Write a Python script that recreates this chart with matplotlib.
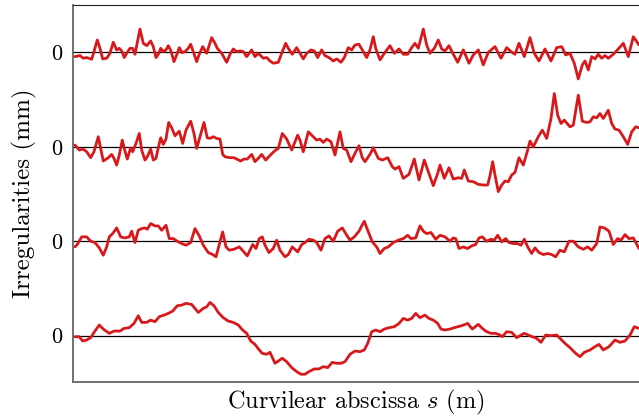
import numpy as np
import matplotlib
matplotlib.use("Agg")
from matplotlib import pyplot as plt

plt.rcParams['font.family'] = 'cmr10'
plt.rcParams['mathtext.fontset'] = 'cm'
plt.rcParams['axes.unicode_minus'] = False
plt.rcParams['axes.formatter.use_mathtext'] = True

# curvilear abscissa (m) and irregularities (mm), per track
s1 = [2, 7, 10.3, 13.7, 18.7, 21, 24.3, 27, 29.7, 33.7, 37, 40.3, 43.7, 46.3, 48.7, 51.3, 53.7, 57, 59.7, 62,
      67, 70.3, 73.7, 77.7, 80.3, 83, 85.3, 87.7, 90.3, 93, 95.3, 98, 101, 103.7, 106.3, 109, 112, 115.3, 117.7,
      120.3, 123.7, 126.3, 129.7, 133.7, 138.7, 142, 144.3, 148.7, 153.7, 157, 160.3, 163.7, 167.7, 170.3, 173.7,
      178.7, 182, 185.3, 187, 190.3, 193.7, 197, 200.3, 205.3, 208.7, 212.7, 215.3, 219.3, 223.7, 227, 230.3,
      233.7, 238, 241.3, 244.7, 248.7, 252, 256, 260.3, 263.7, 268, 271.3, 275.3, 278.7, 282, 286, 289.3, 293.7,
      297, 300.3, 302.7, 307, 311.3, 317, 321.3, 326, 330.3, 334.7, 338.7, 342, 345.3, 350.3, 353.7, 357, 361.3,
      365.3, 368.7, 372, 376, 379.3, 384.7, 390.3, 396, 400.3, 405.3, 410.3, 415.3, 422, 428, 433.7, 438, 442,
      446, 451.3, 457, 461.3, 466, 472, 478, 483.7, 488.7, 492.7, 497, 501.3, 505.3, 509.3, 512, 515.3, 518.7,
      522, 525.3, 528.7, 532, 535.3, 540.3, 545.3, 550.3, 555.3, 560.3, 566]
z1 = [-0.46, -0.35, -0.63, -0.56, -0.74, 0.07, 1.30, 0.42, -0.70, -0.63, -0.11, 1.06, 0.25, 0.42, 0.14, -0.56,
      -0.11, 0.42, 0.42, -0.21, 2.46, 0.95, 0.70, 1.20, 0.60, -0.56, -0.21, 0.42, 0.07, 0.25, 0.70, 0.14, -0.99,
      -0.28, 0.49, -0.04, 0.07, 0.42, 0.85, 0.07, -0.99, -0.21, 0.60, -0.11, 1.55, 0.95, 0.42, -0.11, -1.06,
      -0.21, 0.35, 0.07, 0.14, 0.07, -0.46, 0.25, -0.46, -0.11, -0.28, -0.63, -0.56, -0.92, -1.16, -1.06, -0.11,
      0.95, 0.42, -0.21, 0.49, -0.11, -0.70, -0.11, 0.25, 0.14, -0.56, 0.25, -0.35, -0.56, -0.92, -0.70, -1.06,
      -0.56, 0.49, 0.25, 0.77, 0.85, 0.25, -0.56, 0.25, 1.65, 0.42, -0.81, -0.11, 0.70, -0.11, 0.35, -0.21,
      -0.21, 0.49, 0.95, 0.42, 2.46, 0.77, -0.11, 0.42, 1.30, 0.35, 0.14, 0.70, 0.0, -1.06, 0.25, -1.16, -0.28,
      0.25, -1.34, 0.0, 0.60, -0.63, 0.49, 0.07, -0.21, 0.95, -0.46, 1.55, -0.11, -0.92, 0.35, -0.92, 0.49,
      0.60, -0.28, -0.11, -1.16, -2.82, -1.34, -0.92, -1.87, -0.46, -0.70, -0.21, -0.63, -0.35, -0.63, -0.21,
      0.35, 0.95, -0.46, 1.65, 0.77]

s2 = [2, 6.3, 10.3, 13.7, 17.7, 21, 25.3, 27.7, 30.3, 35.3, 38.7, 41, 43.7, 46.3, 49.3, 52, 54.3, 57.7, 59.7,
      63, 66.3, 68.7, 72, 74.3, 77.7, 80.3, 83, 85.3, 87.7, 90.3, 93, 95.7, 98.7, 102, 106.3, 109.7, 113, 117.7,
      121, 123.7, 127, 131, 134.3, 137, 140.3, 143.7, 147, 149.7, 152, 157, 161, 163.7, 167.7, 171, 174.3, 178.7,
      182, 185.3, 188.7, 192.7, 198, 202.7, 205.3, 209.3, 213.7, 218.7, 224.7, 227, 230.3, 235.3, 239.3, 243.7,
      247, 250.3, 253.7, 258, 262, 267, 270.3, 273.7, 278, 282, 286, 289.3, 292, 297, 300.3, 305.3, 309.3, 314.7,
      319.3, 322, 326, 330.3, 336, 341.3, 346, 351.3, 355.3, 360.3, 364.7, 367, 371.3, 376, 380.3, 385.3, 388.7,
      391.3, 395.3, 400.3, 405.3, 410.3, 414.7, 417, 419.7, 422, 425.3, 428.7, 432, 435.3, 438.7, 442, 446,
      450.3, 454.7, 457, 460.3, 465.3, 469.3, 473.7, 478, 481.3, 484.7, 488, 491.3, 497, 500.3, 505.3, 509.3,
      513.7, 517, 520.3, 523.7, 527, 530.3, 535.3, 538.7, 542, 546, 550.3, 554.7, 558.7, 562.7, 566]
z2 = [0.18, -0.35, -0.25, -0.53, -1.16, -0.53, 1.06, -0.18, -1.51, -1.16, -0.81, -1.23, -1.94, -0.88, 0.70,
      -0.46, -1.30, -0.11, -0.53, 0.35, 1.41, -0.35, -1.41, -1.06, -0.25, -1.41, -1.23, -0.11, 0.95, 0.25, 0.81,
      2.57, 2.01, 1.16, 1.65, 0.35, 1.76, 2.71, 1.41, -0.18, 1.06, 2.57, 0.95, 0.88, 1.06, 0.88, 0.81, -0.81,
      -1.06, -1.16, -1.16, -1.30, -1.51, -1.30, -1.30, -0.81, -1.58, -1.23, -0.81, -1.41, -0.81, -0.35, -0.18,
      1.41, 0.81, -0.35, 1.23, 0.70, -0.53, 1.58, 1.16, 0.70, 0.81, 0.46, 0.81, 0.53, -0.88, 1.58, -0.18, -0.35,
      -1.58, -0.70, 0.11, -1.16, -1.58, -0.81, -0.11, -1.23, -1.41, -1.16, -2.11, -2.36, -2.11, -3.35, -2.92,
      -1.30, -3.52, -1.41, -2.64, -4.12, -2.82, -1.94, -3.35, -2.22, -3.42, -3.28, -3.35, -2.46, -3.63, -3.70,
      -3.98, -4.05, -4.05, -3.06, -1.58, -2.99, -4.75, -4.05, -3.63, -3.70, -2.99, -2.71, -1.16, -1.94, -0.35,
      0.60, 0.0, 1.06, 1.76, 0.88, 2.99, 5.63, 3.35, 2.46, 2.82, 2.11, 2.29, 5.46, 2.71, 2.57, 2.64, 3.17, 3.06,
      3.52, 2.99, 3.87, 2.46, 1.87, 1.76, 1.06, 0.25, 1.58, 2.11, 2.01]

s3 = [2, 4.3, 8.7, 13.7, 17.7, 22, 26.3, 30.3, 33.7, 36.3, 39.7, 43.7, 47.7, 52, 56.3, 58.7, 62, 65.3, 68.7, 72,
      74.3, 77.7, 82, 85.3, 88.7, 93, 96.3, 100.3, 104.3, 108.7, 113, 117.7, 122, 126.3, 130.3, 135.3, 139.7, 143,
      146.3, 149.7, 153, 156.3, 161, 166.3, 170.3, 174.3, 179.7, 183, 186.3, 189.3, 192, 196, 200.3, 203.7, 207,
      212, 215.3, 219.3, 224.7, 228.7, 232, 236, 240.3, 243.7, 248, 252, 256, 260.3, 264.7, 269.3, 272.7, 277,
      281.3, 286, 288.7, 291.3, 294.7, 299.3, 303.7, 307, 311.3, 315.3, 320.3, 325.3, 330.3, 334.7, 338, 342.7,
      347, 350.3, 353.7, 358, 362.7, 367, 372, 377, 380.3, 382.7, 386, 390.3, 394.7, 398.7, 402.7, 406, 409.3,
      413.7, 418, 421.3, 424.7, 428.7, 432.7, 436, 440.3, 444.7, 448, 451.3, 454.7, 458.7, 462, 466, 470.3, 474.7,
      478.7, 482.7, 487, 491.3, 496, 500.3, 505.3, 510.3, 514.7, 518.7, 523.7, 527, 531.3, 536, 540.3, 544.7, 548,
      552, 556, 560.3, 566]
z3 = [-0.60, -0.35, 0.46, 0.46, 0.0, -0.14, -0.70, -1.48, -0.60, 0.46, 0.81, 1.41, 0.46, 0.35, 0.46, 1.06, -0.14,
      1.16, 1.34, 1.41, 1.27, 1.87, 1.62, 1.62, 1.16, 1.69, 0.28, 0.28, 0.0, -0.25, -0.42, -0.14, 1.34, 0.56,
      -0.42, -1.20, -1.41, -1.65, -0.35, 0.99, -0.60, -0.95, -0.85, -0.60, -1.06, -1.55, -0.35, -0.77, 0.28, 0.46,
      -0.42, -1.20, -0.77, 0.11, -0.95, -1.65, -1.41, -0.60, -1.13, -0.35, -0.14, 0.21, 0.11, -0.14, -0.95, 0.28,
      0.56, 0.0, 1.06, 1.41, 0.81, 0.11, 0.46, 1.06, 1.62, 2.11, 1.16, -0.07, -0.60, -1.30, -0.77, -0.60, -0.14,
      0.11, 0.28, 0.63, 0.28, 0.35, 1.62, 1.06, 0.81, 0.92, 0.21, 0.63, 0.46, 0.0, 0.35, 0.28, -0.77, -0.60,
      -0.77, -0.49, -0.35, 0.35, 0.46, 0.0, 0.21, 0.11, 0.63, -0.07, 0.28, -0.14, -0.25, -0.25, -0.42, 0.21,
      -0.60, -1.30, -0.70, -1.20, -1.41, -1.30, -1.41, -1.65, -0.95, -1.13, 0.0, 0.0, -0.60, -0.85, -0.60, -0.95,
      -0.25, 1.51, 1.41, 1.06, -0.35, 0.28, 0.11, 0.70, 0.28, 0.35, -0.77]

s4 = [2, 6.3, 9.7, 13.7, 17.7, 22, 26.3, 30.3, 36.3, 41, 47, 51, 56.3, 61, 65.3, 68.7, 73.7, 77.7, 82, 86.3, 91,
      95.3, 99.7, 104.3, 108.7, 113, 118.7, 122, 125.3, 130.3, 133.7, 137, 141, 145.3, 150.3, 155.3, 160.3, 165.3,
      169.7, 173.7, 177.7, 182, 186.3, 189.3, 193.7, 197, 202, 205.3, 209.3, 213.7, 218.7, 223.7, 228, 232, 236,
      241.3, 246, 250.3, 254.7, 259.3, 263.7, 268, 272, 277, 282, 287, 291.3, 294.7, 298.7, 302.7, 307, 311.3,
      316, 321.3, 326, 330.3, 334.7, 338.7, 342.7, 347, 352, 356, 360.3, 364.7, 368, 372, 377, 381.3, 384.7,
      388.7, 394.7, 399.3, 405.3, 409.3, 413.7, 418, 422.7, 427, 429.3, 433.7, 438.7, 443.7, 447, 451.3, 455.3,
      459.3, 463.7, 468, 472.7, 478, 483.7, 487, 492, 497, 502.7, 507, 511.3, 517, 522, 526, 530.3, 536, 542,
      547, 552, 557, 561.3, 566]
z4 = [-0.11, -0.11, -0.56, -0.46, -0.21, 0.49, 1.13, 0.70, 0.25, 0.49, 0.49, 0.77, 0.85, 1.30, 2.11, 1.41, 1.41,
      1.65, 1.48, 2.01, 2.18, 2.36, 2.61, 3.17, 3.24, 3.42, 3.31, 2.89, 2.46, 2.89, 3.06, 3.52, 3.17, 2.46, 1.90,
      1.55, 1.41, 1.13, 0.60, 0.25, -0.56, -0.92, -1.51, -1.87, -1.97, -1.76, -2.92, -2.68, -2.39, -2.75, -3.38,
      -3.80, -4.08, -4.08, -3.80, -3.52, -3.52, -3.27, -3.38, -2.82, -2.92, -2.92, -2.75, -1.97, -1.62, -1.69,
      -1.51, -0.81, 0.42, 0.60, 0.42, 0.70, 0.85, 0.95, 1.30, 1.83, 1.65, 1.83, 2.36, 1.90, 2.18, 1.83, 1.65,
      1.30, 0.70, 0.60, 0.70, 0.85, 0.95, 1.06, 1.30, 0.70, 1.20, 0.77, 0.42, 0.25, 0.25, 0.07, -0.11, 0.42,
      0.35, -0.21, 0.0, 0.25, 0.07, -0.11, -0.28, -0.70, 0.07, 0.0, 0.07, -0.28, -0.81, -1.27, -1.87, -2.22,
      -1.76, -1.51, -1.16, -0.92, -1.51, -1.16, -0.46, -0.70, -0.56, 0.07, 0.95, 0.77]

offsets = [30, 20, 10, 0]
tracks = [(s1, z1), (s2, z2), (s3, z3), (s4, z4)]

fig = plt.figure(figsize=(6.39, 4.2), dpi=100)
ax = fig.add_axes([0.1142, 0.0905, 0.8858, 0.8975])

for off, (s, z) in zip(offsets, tracks):
    ax.axhline(off, color='black', lw=0.9, zorder=1)
    ax.plot(s, np.array(z) + off, color='#d7191c', lw=2.0,
            solid_joinstyle='round', solid_capstyle='round', zorder=2)

ax.set_xlim(0, 566)
ax.set_ylim(-4.9, 35)
ax.set_yticks(offsets)
ax.set_yticklabels(['0'] * 4)
ax.set_xticks([])
ax.tick_params(axis='y', length=0, pad=8, labelsize=16)
for side in ['left', 'bottom']:
    ax.spines[side].set_color('#666666')
    ax.spines[side].set_linewidth(1.3)
ax.spines['top'].set_color('#222222')
ax.spines['right'].set_visible(False)

ax.set_xlabel('Curvilear abscissa $s$ (m)', fontsize=17.5, labelpad=4)
ax.set_ylabel('Irregularities (mm)', fontsize=18, labelpad=10)

plt.savefig('out.png', dpi=100)
